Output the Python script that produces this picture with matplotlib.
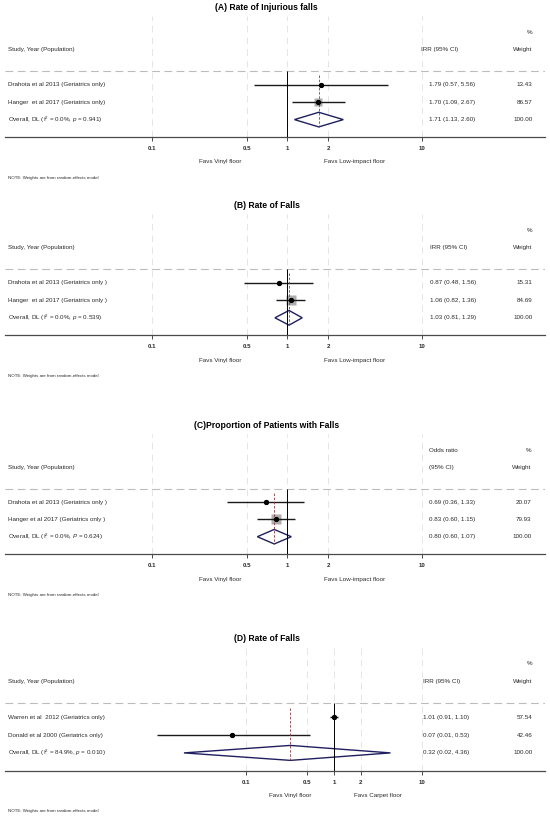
#!/usr/bin/env python3
"""
Forest plots: flooring type and falls (four panels)
"""

import numpy as np
import matplotlib
matplotlib.use("Agg")
import matplotlib.pyplot as plt
from matplotlib.ticker import NullLocator
from matplotlib.transforms import blended_transform_factory

plt.rcParams['font.family'] = ['Liberation Sans', 'DejaVu Sans']
plt.rcParams['mathtext.fontset'] = 'custom'
plt.rcParams['mathtext.rm'] = 'Liberation Sans'
plt.rcParams['mathtext.it'] = 'Liberation Sans:italic'
plt.rcParams['mathtext.bf'] = 'Liberation Sans:bold'

# ---- data -------------------------------------------------------------
title_a = "(A) Rate of Injurious falls"
studies_a = ["Drahota et al 2013 (Geriatrics only)", "Hanger  et al 2017 (Geriatrics only)"]
est_a = [1.79, 1.70]
lo_a = [0.57, 1.09]
hi_a = [5.56, 2.67]
weight_a = [13.43, 86.57]
pooled_a = [1.71, 1.13, 2.60]
het_a = ["0.0%", "p", "0.941"]

title_b = "(B) Rate of Falls"
studies_b = ["Drahota et al 2013 (Geriatrics only )", "Hanger  et al 2017 (Geriatrics only )"]
est_b = [0.87, 1.06]
lo_b = [0.48, 0.82]
hi_b = [1.56, 1.36]
weight_b = [15.31, 84.69]
pooled_b = [1.03, 0.81, 1.29]
het_b = ["0.0%", "p", "0.539"]

title_c = "(C)Proportion of Patients with Falls"
studies_c = ["Drahota et al 2013 (Geriatrics only )", "Hanger et al 2017 (Geriatrics only )"]
est_c = [0.69, 0.83]
lo_c = [0.36, 0.60]
hi_c = [1.33, 1.15]
weight_c = [20.07, 79.93]
pooled_c = [0.80, 0.60, 1.07]
het_c = ["0.0%", "P", "0.624"]

title_d = "(D) Rate of Falls"
studies_d = ["Warren et al  2012 (Geriatrics only)", "Donald et al 2000 (Geriatrics only)"]
est_d = [1.01, 0.07]
lo_d = [0.91, 0.01]
hi_d = [1.10, 0.53]
weight_d = [57.54, 42.46]
pooled_d = [0.32, 0.02, 4.36]
het_d = ["84.9%", "p", "0.010"]

tick_values = [0.1, 0.5, 1, 2, 10]
tick_labels = ["0.1", "0.5", "1", "2", "10"]
favours_abc = ["Favs Vinyl floor", "Favs Low-impact floor"]
favours_d = ["Favs Vinyl floor", "Favs Carpet floor"]
note = "NOTE: Weights are from random-effects model"

# ---- layout -----------------------------------------------------------
W, H = 550, 817
TXT = '#2a2a2a'
X_LEFT, X_RIGHT = 5.3, 545.0
FS = 4.5


def draw_panel(fig, lay, title, studies, est, lo, hi, weights, pooled, het,
               measure, favours):
    null_px, decade = lay['null'], lay['decade']
    axis_px, row_px = lay['axis'], lay['row']

    ax = fig.add_axes([X_LEFT / W, 1 - axis_px / H,
                       (X_RIGHT - X_LEFT) / W, 6.95 * row_px / H])
    ax.set_xscale('log')
    ax.set_xlim(10 ** ((X_LEFT - null_px) / decade),
                10 ** ((X_RIGHT - null_px) / decade))
    ax.set_ylim(3.0, -3.95)
    for s in ['top', 'left', 'right']:
        ax.spines[s].set_visible(False)
    ax.spines['bottom'].set_color('#4a4a4a')
    ax.spines['bottom'].set_linewidth(0.9)
    ax.set_yticks([])
    ax.set_xticks(tick_values)
    ax.set_xticklabels(tick_labels, fontweight='bold', fontsize=4.4, color=TXT)
    ax.xaxis.set_minor_locator(NullLocator())
    ax.tick_params(axis='x', length=3, width=0.7, color='#4a4a4a', pad=3.4)
    ax.grid(axis='x', color='#e0e0e0', lw=0.6, ls=(0, (8, 6)))
    ax.set_axisbelow(True)
    ax.set_facecolor('white')

    # header separator, null line, pooled estimate line
    ax.axhline(-0.78, color='#bcbcbc', lw=0.8, ls=(0, (7, 4)))
    ax.vlines(1, -0.78, 3.0, color='black', lw=0.7, zorder=4)
    ax.vlines(pooled[0], -0.55, 2.42, color='#8b3a3a', lw=0.6,
              ls=(0, (3, 2)), zorder=4)

    rows = np.arange(len(studies))
    for r, e, l, h, w in zip(rows, est, lo, hi, weights):
        ax.plot(e, r, marker='s', ms=lay['box'] * np.sqrt(w), color='#adadad',
                mec='none', ls='none', zorder=2)
        ax.hlines(r, l, h, color='#1a1a1a', lw=1.0, zorder=3)
        ax.plot(e, r, marker='o', ms=2.8, color='black', ls='none', zorder=5)

    pr = len(studies)
    pe, pl, ph = pooled
    ax.fill([pl, pe, ph, pe], [pr, pr - 0.42, pr, pr + 0.42],
            facecolor='white', edgecolor='#1f1f5f', lw=1.0, zorder=3)

    # text columns
    tr = blended_transform_factory(fig.transFigure, ax.transData)
    kw = dict(transform=tr, fontsize=FS, color=TXT, va='center')
    ax.text(266.5 / W, -4.42, title, transform=tr, ha='center', va='center',
            fontsize=6.2, fontweight='bold', color='black')
    ax.text(7.7 / W, -2, "Study, Year (Population)", ha='left', **kw)
    ax.text(lay['hdr'] / W, -2, measure[1], ha='left', **kw)
    if measure[0]:
        ax.text(lay['hdr'] / W, -3, measure[0], ha='left', **kw)
    ax.text(lay['wt'] / W, -3, "%", ha='right', **kw)
    ax.text(lay['wt'] / W, -2, "Weight", ha='right', **kw)

    for r, name, e, l, h, w in zip(rows, studies, est, lo, hi, weights):
        ax.text(7.7 / W, r, name, ha='left', **kw)
        ax.text(lay['ci'] / W, r, f"{e:.2f} ({l:.2f}, {h:.2f})", ha='left', **kw)
        ax.text(lay['wt'] / W, r, f"{w:.2f}", ha='right', **kw)

    i2, pname, pval = het
    ax.text(7.7 / W, pr,
            r"Overall, DL (I$^{2}$ = " + i2 +
            r", $\mathit{" + pname + r"}$ = " + pval + ")", ha='left', **kw)
    ax.text(lay['ci'] / W, pr, f"{pe:.2f} ({pl:.2f}, {ph:.2f})", ha='left', **kw)
    ax.text(lay['wt'] / W, pr, f"{sum(weights):.2f}", ha='right', **kw)

    # below the axis
    for xv, lab in zip([10 ** -0.5, 10 ** 0.5], favours):
        ax.annotate(lab, xy=(xv, 0), xycoords=('data', 'axes fraction'),
                    xytext=(0, -25 * 0.72), textcoords='offset points',
                    ha='center', va='center', fontsize=FS, color=TXT)
    ax.annotate(note, xy=(7.7 / W, 0), xycoords=('figure fraction', 'axes fraction'),
                xytext=(0, -40.6 * 0.72), textcoords='offset points',
                ha='left', va='center', fontsize=3.2, color=TXT)
    return ax


def main():
    fig = plt.figure(figsize=(W / 100, H / 100), dpi=100)
    fig.patch.set_facecolor('white')

    lay_a = dict(null=287.3, decade=135.0, axis=137.0, row=17.4, box=0.64,
                 hdr=421.0, ci=429.0, wt=532.6)
    lay_b = dict(null=287.3, decade=135.0, axis=335.3, row=17.5, box=0.84,
                 hdr=430.0, ci=430.5, wt=532.6)
    lay_c = dict(null=287.3, decade=135.0, axis=554.0, row=17.3, box=0.75,
                 hdr=429.0, ci=429.0, wt=531.5)
    lay_d = dict(null=334.0, decade=88.3, axis=770.7, row=17.8, box=0.47,
                 hdr=423.0, ci=423.0, wt=532.6)

    draw_panel(fig, lay_a, title_a, studies_a, est_a, lo_a, hi_a, weight_a,
               pooled_a, het_a, ["", "IRR (95% CI)"], favours_abc)
    draw_panel(fig, lay_b, title_b, studies_b, est_b, lo_b, hi_b, weight_b,
               pooled_b, het_b, ["", "IRR (95% CI)"], favours_abc)
    draw_panel(fig, lay_c, title_c, studies_c, est_c, lo_c, hi_c, weight_c,
               pooled_c, het_c, ["Odds ratio", "(95% CI)"], favours_abc)
    draw_panel(fig, lay_d, title_d, studies_d, est_d, lo_d, hi_d, weight_d,
               pooled_d, het_d, ["", "IRR (95% CI)"], favours_d)

    fig.savefig('out.png', dpi=100, facecolor='white')


if __name__ == "__main__":
    main()
